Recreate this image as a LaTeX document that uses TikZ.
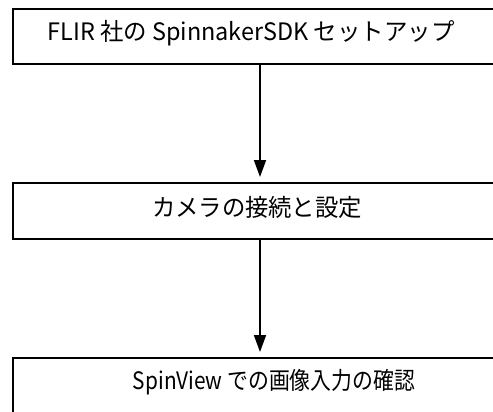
\documentclass[tikz,border=0pt]{standalone}
\usepackage{fontspec}
\usepackage{graphicx}
\setmainfont{Noto Sans CJK JP}
\usetikzlibrary{arrows.meta}
\tikzset{
  stepbox/.style={draw=black, line width=1.8pt, rectangle, anchor=north west, inner sep=0pt, minimum width=490pt},
  steptext/.style={inner sep=0pt, font=\fontsize{24pt}{28pt}\selectfont},
  flow/.style={line width=1.8pt, -{Triangle[width=12pt,length=17pt]}, shorten >=5pt}
}
\begin{document}
\begin{tikzpicture}[x=1pt,y=-1pt]
\useasboundingbox (0,0) rectangle (493,412);
\clip (0,0) rectangle (493,412);
\node[stepbox, minimum height=55pt] (b1) at (12,8) {};
\node[stepbox, minimum height=56pt] (b2) at (12,182) {};
\node[stepbox, minimum height=70pt] (b3) at (12,357) {};
\node[steptext] (t1) at (251,33) {\resizebox{407pt}{\height}{FLIR 社の SpinnakerSDK セットアップ}};
\node[steptext] (t2) at (257,207) {\resizebox{210pt}{\height}{カメラの接続と設定}};
\node[steptext] (t3) at (274,382) {\resizebox{282pt}{\height}{SpinView での画像入力の確認}};
\coordinate (a1s) at (260,63);
\coordinate (a1e) at (260,182);
\coordinate (a2s) at (260,238);
\coordinate (a2e) at (260,357);
\draw[flow] (b1.south -| a1s) -- (b2.north -| a1e);
\draw[flow] (b2.south -| a2s) -- (b3.north -| a2e);
\end{tikzpicture}
\end{document}
